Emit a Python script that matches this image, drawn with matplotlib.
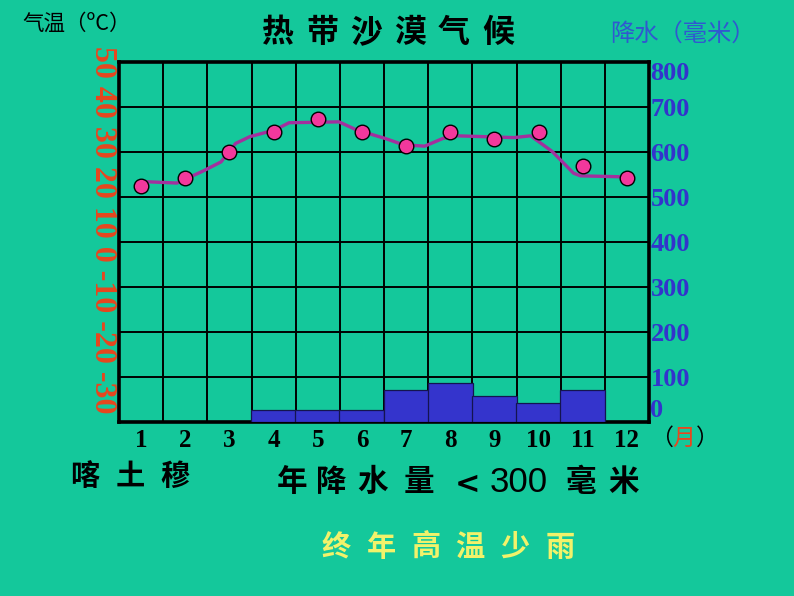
import numpy as np
import matplotlib
matplotlib.use('Agg')
import matplotlib.pyplot as plt

# ---------------- data ----------------
months = np.arange(1, 13)
month_labels = [str(m) for m in months]
temp_c = [22.5, 24.2, 29.9, 34.4, 37.3, 34.4, 31.4, 34.4, 32.9, 34.4, 27.0, 24.2]
curve_month = [1.11, 1.81, 2.41, 2.81, 3.14, 3.46, 4.03, 4.35, 5.48, 5.88, 6.53, 6.94,
               7.42, 7.83, 8.15, 9.44, 9.82, 10.31, 10.79, 10.95, 11.85]
curve_temp = [23.4, 23.1, 25.8, 27.8, 31.9, 33.4, 34.9, 36.5, 36.7, 34.9, 33.0, 31.6,
              31.3, 33.0, 33.6, 33.2, 33.6, 30.1, 25.3, 24.7, 24.5]
precip_mm = [0, 0, 0, 27, 27, 27, 71, 87, 57, 42, 71, 0]
temp_ticks = [-30, -20, -10, 0, 10, 20, 30, 40, 50]
precip_ticks = [0, 100, 200, 300, 400, 500, 600, 700, 800]

title = "热带沙漠气候"
city = "喀土穆"
summary = "终年高温少雨"

BG = '#14C89B'
CJK = ['Noto Sans CJK SC', 'DejaVu Sans']
SERIF = ['Liberation Serif', 'DejaVu Serif']

fig = plt.figure(figsize=(7.94, 5.96), dpi=100, facecolor=BG)
W, H = 794, 596

def fx(px):
    return px / W

def fy(py):
    return 1 - py / H

ax = fig.add_axes([fx(119), fy(422), fx(649) - fx(119), fy(62) - fy(422)])
ax.set_facecolor(BG)
ax.set_xlim(0.5, 12.5)
ax.set_ylim(temp_ticks[0], temp_ticks[-1])

# grid
ax.set_xticks(np.arange(0.5, 13, 1), minor=True)
ax.set_xticks(months)
ax.set_xticklabels(month_labels, fontfamily=SERIF, fontweight='bold', fontsize=18, color='black')
ax.set_yticks(temp_ticks)
ax.set_yticklabels([])
ax.tick_params(axis='both', which='both', length=0)
ax.tick_params(axis='x', pad=5)
ax.grid(True, which='minor', axis='x', color='black', linewidth=1.4)
ax.grid(True, which='major', axis='y', color='black', linewidth=1.4)
for s in ax.spines.values():
    s.set_linewidth(2.6)
    s.set_color('black')

# temperature curve and points
ax.plot(curve_month, curve_temp, color='#A3309E', linewidth=2.4, zorder=3)
ax.plot(months, temp_c, linestyle='none', marker='o', markersize=10.5,
        markerfacecolor='#F2389C', markeredgecolor='black', markeredgewidth=1.0, zorder=4)

# precipitation axis
ax2 = ax.twinx()
ax2.set_ylim(precip_ticks[0], precip_ticks[-1])
ax2.patch.set_visible(False)
bm = [m for m, p in zip(months, precip_mm) if p > 0]
bp = [p for p in precip_mm if p > 0]
ax2.bar(bm, bp, width=1.02, color='#3434CC', edgecolor='#141450', linewidth=0.9, zorder=2)
ax2.set_yticks(precip_ticks)
labels2 = ax2.set_yticklabels([str(v) for v in precip_ticks], fontfamily=SERIF, fontweight='bold',
                              fontsize=19, color='#3333CC')
labels2[0].set_va('bottom')
labels2[-1].set_va('top')
ax2.tick_params(axis='y', length=0, pad=1)
for s in ax2.spines.values():
    s.set_visible(False)

# left (rotated) temperature scale
left_scale = " ".join(str(v) for v in temp_ticks[::-1])
fig.text(fx(102), fy(230), left_scale, rotation=-90, ha='center', va='center',
         fontfamily=SERIF, fontweight='bold', fontsize=23, color='#E8461E')

def spaced(s, centers, y, **kw):
    for ch, cx in zip(s, centers):
        fig.text(fx(cx), fy(y), ch, ha='center', va='center', **kw)

# title
spaced(title, [278, 322, 366, 410, 454, 498], 33, fontfamily=CJK, fontsize=23,
       fontweight='bold', color='black')

# axis titles
fig.text(fx(22), fy(24), "气温（ºC）", ha='left', va='center', fontfamily=CJK,
         fontsize=15.5, color='black')
fig.text(fx(610), fy(35), "降水（毫米）", ha='left', va='center', fontfamily=CJK,
         fontsize=17.5, color='#3058D0')

# month unit
fig.text(fx(661), fy(438), "（", ha='center', va='center', fontfamily=CJK, fontsize=16.5, color='black')
fig.text(fx(684), fy(438), "月", ha='center', va='center', fontfamily=CJK, fontsize=16.5, color='#E8461E')
fig.text(fx(707), fy(438), "）", ha='center', va='center', fontfamily=CJK, fontsize=16.5, color='black')

# bottom texts
spaced(city, [85, 130, 175], 476, fontfamily=CJK, fontsize=21, fontweight='bold', color='black')
spaced("年降水量", [292, 331, 373, 419], 482, fontfamily=CJK, fontsize=22, fontweight='bold', color='black')
fig.text(fx(468), fy(484), "<", ha='center', va='center', fontfamily=['DejaVu Sans'],
         fontsize=22, fontweight='bold', color='black')
fig.text(fx(519), fy(482), "300", ha='center', va='center',
         fontfamily=['Liberation Sans Narrow', 'Liberation Sans'], fontsize=25, color='black')
spaced("毫米", [581, 624], 482, fontfamily=CJK, fontsize=22, fontweight='bold', color='black')
spaced(summary, [336, 381, 426, 470, 515, 560], 547, fontfamily=CJK, fontsize=21,
       fontweight='bold', color='#F2F26A')

fig.savefig('out.png', dpi=100, facecolor=BG)
